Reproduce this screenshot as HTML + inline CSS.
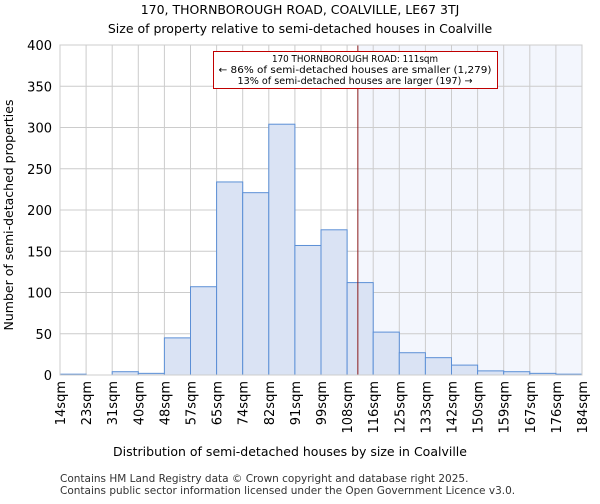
<!DOCTYPE html>
<html><head><meta charset="utf-8"><style>
body{margin:0;background:#fff;font-family:"DejaVu Sans","Liberation Sans",sans-serif;}
</style></head><body>
<svg width="600" height="500" font-family="DejaVu Sans, Liberation Sans, sans-serif">
<text x="300" y="14" text-anchor="middle" font-size="12.5">170, THORNBOROUGH ROAD, COALVILLE, LE67 3TJ</text>
<text x="300" y="33" text-anchor="middle" font-size="12.5">Size of property relative to semi-detached houses in Coalville</text>
<g id="plot"></g>
<text x="290" y="456" text-anchor="middle" font-size="12.5">Distribution of semi-detached houses by size in Coalville</text>
<text transform="translate(13,215) rotate(-90)" text-anchor="middle" font-size="12.5">Number of semi-detached properties</text>
<text x="60" y="482" font-size="10.5" fill="#333">Contains HM Land Registry data © Crown copyright and database right 2025.</text>
<text x="60" y="494" font-size="10.5" fill="#333">Contains public sector information licensed under the Open Government Licence v3.0.</text>
</svg>
<script>
const binLabels=["14sqm","23sqm","31sqm","40sqm","48sqm","57sqm","65sqm","74sqm","82sqm","91sqm","99sqm","108sqm","116sqm","125sqm","133sqm","142sqm","150sqm","159sqm","167sqm","176sqm","184sqm"];
const binEdges=[14,22.5,31,39.5,48,56.5,65,73.5,82,90.5,99,107.5,116,124.5,133,141.5,150,158.5,167,175.5,184];
const counts=[1,0,4,2,45,107,234,221,304,157,176,112,52,27,21,12,5,4,2,1];
const yTicks=[0,50,100,150,200,250,300,350,400];
const propertySize=111;
const X0=60,X1=582,Y0=375,Y1=45;
const xs=v=>X0+(v-14)/(184-14)*(X1-X0);
const ys=v=>Y0-v/400*(Y0-Y1);
const NS="http://www.w3.org/2000/svg";
const g=document.getElementById('plot');
function mk(t,a){const e=document.createElementNS(NS,t);for(const k in a)e.setAttribute(k,a[k]);g.appendChild(e);return e;}
const px=xs(propertySize);
let e=mk('rect',{x:px,y:Y1,width:X1-px,height:Y0-Y1,fill:'#f3f6fd'});


yTicks.forEach(t=>{let l=mk('line',{x1:X0,x2:X1,y1:ys(t),y2:ys(t),stroke:'#cccccc','stroke-width':1});


let tx=mk('text',{x:X0-8,y:ys(t)+5,'text-anchor':'end','font-size':13});tx.textContent=t;

});
binEdges.forEach((b,i)=>{let l=mk('line',{x1:xs(b),x2:xs(b),y1:Y1,y2:Y0,stroke:'#cccccc','stroke-width':1});


let tx=mk('text',{transform:`translate(${xs(b)+5},381) rotate(-90)`,'text-anchor':'end','font-size':13});tx.textContent=binLabels[i];

});
counts.forEach((c,i)=>{let r=mk('rect',{x:xs(binEdges[i]),y:ys(c),width:xs(binEdges[i+1])-xs(binEdges[i]),height:Y0-ys(c),fill:'#dae3f4',stroke:'#5b8fd6','stroke-width':1});

});
e=mk('line',{x1:px,x2:px,y1:Y1,y2:Y0,stroke:'#8b1a1a','stroke-width':1});


e=mk('rect',{x:213.5,y:51.5,width:284,height:37,fill:'#fff',stroke:'#c00000','stroke-width':1});


["170 THORNBOROUGH ROAD: 111sqm","← 86% of semi-detached houses are smaller (1,279)","13% of semi-detached houses are larger (197) →"].forEach((s,i)=>{let t=mk('text',{x:355,y:62+i*11,'text-anchor':'middle','font-size':10,'textLength':i==0?166:i==1?273:235,'lengthAdjust':'spacingAndGlyphs'});t.textContent=s;

});
e=mk('rect',{x:X0,y:Y1,width:X1-X0,height:Y0-Y1,fill:'none',stroke:'#cccccc'});


</script>
</body></html>
